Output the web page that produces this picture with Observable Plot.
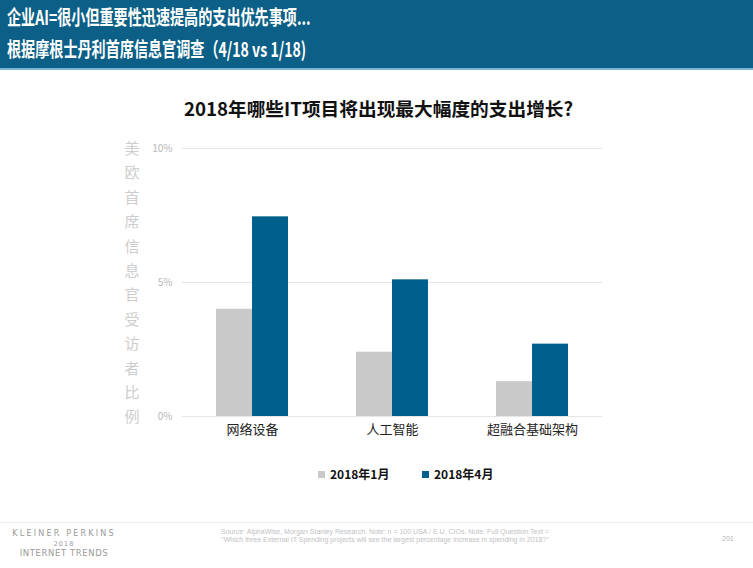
<!DOCTYPE html>
<html>
<head>
<meta charset="utf-8">
<script src="https://cdn.jsdelivr.net/npm/d3@7"></script>
<script src="https://cdn.jsdelivr.net/npm/@observablehq/plot@0.6"></script>
<style>
  html, body { margin: 0; padding: 0; background: #fff; }
  body { width: 753px; height: 568px; position: relative; overflow: hidden; font-family: "Noto Sans CJK SC", "Noto Sans", sans-serif; }
  #header { position: absolute; left: 0; top: 0; width: 753px; height: 68px; background: #0c5f86; border-bottom: 2px solid #7db3d0; }
  .hline { position: absolute; left: 7px; color: #fff; font-weight: bold; font-size: 20px; white-space: nowrap; transform: scaleX(0.705); transform-origin: left center; line-height: 24px; }
  #title { position: absolute; left: 0; width: 753px; top: 94px; text-align: center; font-size: 18.7px; font-weight: bold; color: #111; padding-left: 2px; }
  #ylab { position: absolute; left: 124px; top: 136px; width: 16px; font-size: 15px; line-height: 24.4px; color: #cdcdcd; word-break: break-all; text-align: center; }
  #chart { position: absolute; left: 0; top: 130px; }
  #legend { position: absolute; top: 465px; left: 0; width: 753px; height: 18px; font-size: 12px; font-weight: bold; color: #111; }
  .li { position: absolute; top: 0; white-space: nowrap; line-height: 18px; }
  .sw { display: inline-block; width: 7px; height: 7px; margin-right: 5px; vertical-align: 1px; }
  #footline { position: absolute; left: 0; top: 522px; width: 753px; height: 1px; background: #ededed; }
  .kp { position: absolute; left: 6px; width: 116px; text-align: center; color: #9a9a9a; font-family: "DejaVu Sans", sans-serif; white-space: nowrap; }
  #src { position: absolute; left: 135px; top: 528px; width: 500px; text-align: center; color: #c2c2c2; font-family: "Liberation Sans Narrow", "Liberation Sans", sans-serif; font-size: 7px; line-height: 8px; }
  #page { position: absolute; left: 722px; top: 535px; color: #b5b5b5; font-size: 7px; font-family: "Liberation Sans", sans-serif; }
</style>
</head>
<body>
<div id="header">
  <div class="hline" style="top:5px">企业AI=很小但重要性迅速提高的支出优先事项...</div>
  <div class="hline" style="top:37px">根据摩根士丹利首席信息官调查（4/18 vs 1/18)</div>
</div>
<div id="title">2018年哪些IT项目将出现最大幅度的支出增长?</div>
<div id="ylab">美欧首席信息官受访者比例</div>
<div id="chart"></div>
<div id="legend"></div>
<div id="footline"></div>
<div class="kp" style="top:529px;font-size:8px;letter-spacing:2.2px">KLEINER PERKINS</div>
<div class="kp" style="top:540px;font-size:6.5px;letter-spacing:1px">2018</div>
<div class="kp" style="top:548px;font-size:8.5px;letter-spacing:0.6px">INTERNET TRENDS</div>
<div id="src">Source: AlphaWise, Morgan Stanley Research.  Note: n = 100 USA / E.U. CIOs.  Note: Full Question Text =<br>"Which three External IT Spending projects will see the largest percentage increase in spending in 2018?"</div>
<div id="page">201</div>
<script>
const categories = ["网络设备", "人工智能", "超融合基础架构"];
const seriesNames = ["2018年1月", "2018年4月"];
const jan2018 = [4.0, 2.4, 1.3];
const apr2018 = [7.45, 5.1, 2.7];
const yTicks = [0, 5, 10];
const seriesColors = ["#c9c9c9", "#00608b"];

const data = categories.flatMap((c, i) => [
  {category: c, series: seriesNames[0], value: jan2018[i]},
  {category: c, series: seriesNames[1], value: apr2018[i]}
]);

const chart = Plot.plot({
  width: 753,
  height: 320,
  marginLeft: 182,
  marginRight: 151,
  marginTop: 18,
  marginBottom: 34,
  style: {fontFamily: "'Noto Sans CJK SC', sans-serif", background: "transparent", overflow: "visible"},
  fx: {domain: categories, padding: 0, label: null},
  x: {domain: seriesNames, paddingInner: 0, paddingOuter: 0.918, axis: null},
  y: {domain: [0, 10]},
  color: {domain: seriesNames, range: seriesColors},
  marks: [
    Plot.ruleY(yTicks, {stroke: "#e6e6e6", strokeWidth: 1}),
    Plot.barY(data, {fx: "category", x: "series", y: "value", fill: "series"}),
    Plot.axisY({ticks: yTicks, tickSize: 0, tickPadding: 10, tickFormat: d => d + "%", fontSize: 10, color: "#b8b8b8", label: null}),
    Plot.axisFx({anchor: "bottom", tickSize: 0, tickPadding: 8, fontSize: 13, color: "#222", label: null})
  ]
});
document.getElementById("chart").appendChild(chart);

const legend = document.getElementById("legend");
const legendX = [318, 422];
seriesNames.forEach((s, i) => {
  const item = document.createElement("div");
  item.className = "li";
  item.style.left = legendX[i] + "px";
  const sw = document.createElement("span");
  sw.className = "sw";
  sw.style.background = seriesColors[i];
  item.appendChild(sw);
  item.appendChild(document.createTextNode(s));
  legend.appendChild(item);
});
</script>
</body>
</html>
